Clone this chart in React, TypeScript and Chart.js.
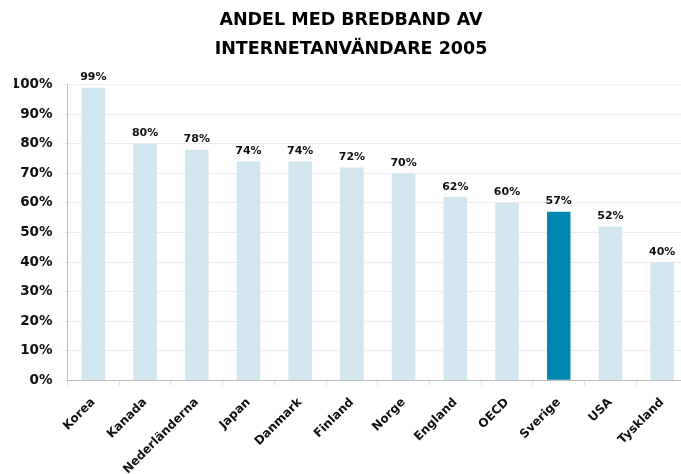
import React, { useEffect, useRef } from 'react';
import { Chart, registerables } from 'chart.js';

Chart.register(...registerables);

const categories = ['Korea', 'Kanada', 'Nederländerna', 'Japan', 'Danmark', 'Finland', 'Norge', 'England', 'OECD', 'Sverige', 'USA', 'Tyskland'];
const values = [99, 80, 78, 74, 74, 72, 70, 62, 60, 57, 52, 40];
const highlightCategory = 'Sverige';
const titleLines = ['ANDEL MED BREDBAND AV', 'INTERNETANVÄNDARE 2005'];

const LIGHT = '#d2e6ef';
const DARK = '#0088ae';
const FONT = "'DejaVu Sans', sans-serif";

const dataLabels = {
  id: 'dataLabels',
  afterDatasetsDraw(chart: any) {
    const ctx = chart.ctx;
    const meta = chart.getDatasetMeta(0);
    ctx.save();
    ctx.font = `bold 11px ${FONT}`;
    ctx.fillStyle = '#111';
    ctx.textAlign = 'center';
    ctx.textBaseline = 'alphabetic';
    meta.data.forEach((bar: any, i: number) => {
      ctx.fillText(values[i] + '%', bar.x, bar.y - 7.5);
    });
    ctx.restore();
  },
};

export default function App() {
  const ref = useRef<HTMLCanvasElement>(null);
  useEffect(() => {
    document.body.style.margin = '0';
    const chart = new Chart(ref.current!, {
      type: 'bar',
      data: {
        labels: categories,
        datasets: [
          {
            data: values,
            backgroundColor: categories.map((c) => (c === highlightCategory ? DARK : LIGHT)),
            borderWidth: 0,
            categoryPercentage: 1,
            barPercentage: 0.455,
          },
        ],
      },
      options: {
        animation: false,
        responsive: false,
        maintainAspectRatio: false,
        layout: { padding: { left: 14, right: 12, top: 0, bottom: 0 } },
        plugins: {
          legend: { display: false },
          tooltip: { enabled: false },
          title: {
            display: true,
            text: titleLines,
            color: '#000',
            font: { family: FONT, size: 17.5, weight: 'bold', lineHeight: 1.64 },
            padding: { top: 6, bottom: 21.3 },
          },
        },
        scales: {
          x: {
            grid: { display: true, drawOnChartArea: false, drawTicks: true, tickLength: 5, offset: true, color: '#dddddd' },
            border: { color: '#bdbdbd' },
            ticks: {
              autoSkip: false,
              minRotation: 45,
              maxRotation: 45,
              padding: 10,
              color: '#111',
              font: { family: FONT, size: 12, weight: 'bold' },
            },
            afterFit(scale: any) {
              scale.height = 93.7;
            },
          },
          y: {
            min: 0,
            max: 100,
            ticks: {
              stepSize: 10,
              padding: 10,
              color: '#111',
              font: { family: FONT, size: 13.5, weight: 'bold' },
              callback: (v: any) => v + '%',
            },
            grid: { color: '#ececec', tickLength: 5 },
            border: { color: '#bdbdbd' },
            afterFit(scale: any) {
              scale.width = 53.5;
            },
          },
        },
      },
      plugins: [dataLabels],
    });
    return () => chart.destroy();
  }, []);
  return (
    <div style={{ position: 'fixed', left: 0, top: 0, width: 681, height: 474, overflow: 'hidden', background: '#fff' }}>
      <canvas ref={ref} width={700} height={474} style={{ display: 'block' }} />
    </div>
  );
}
